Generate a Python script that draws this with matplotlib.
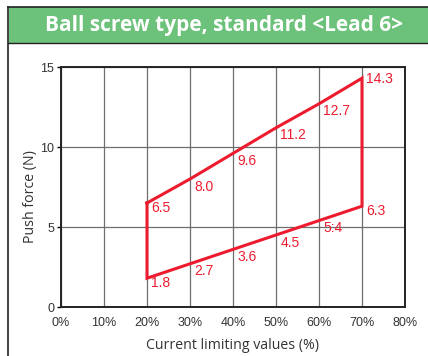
import matplotlib.pyplot as plt
from matplotlib.patches import Rectangle
from matplotlib.lines import Line2D

# data
x_pct = [20, 30, 40, 50, 60, 70]
upper = [6.5, 8.0, 9.6, 11.2, 12.7, 14.3]
lower = [1.8, 2.7, 3.6, 4.5, 5.4, 6.3]
upper_lbl = ["6.5", "8.0", "9.6", "11.2", "12.7", "14.3"]
lower_lbl = ["1.8", "2.7", "3.6", "4.5", "5:4", "6.3"]
x_ticks = [0, 10, 20, 30, 40, 50, 60, 70, 80]
y_ticks = [0, 5, 10, 15]

W, H = 428, 356
RED = "#ec1c2e"
GREEN = "#6cc27a"

fig = plt.figure(figsize=(W / 100, H / 100), dpi=100)

# frame (only top and left edges are inside the picture) and green header
fig.patches.append(Rectangle((8.5 / W, (H - 43) / H), 1, 36 / H, transform=fig.transFigure,
                             fc=GREEN, ec="none"))
fig.lines.append(Line2D([8 / W, 1], [(H - 7) / H] * 2, transform=fig.transFigure,
                        color="#222222", lw=1.2))
fig.lines.append(Line2D([8 / W, 8 / W], [0, (H - 7) / H], transform=fig.transFigure,
                        color="#222222", lw=1.2))
fig.lines.append(Line2D([8 / W, 1], [(H - 43) / H] * 2, transform=fig.transFigure,
                        color="#222222", lw=1.0))
fig.text(224 / W, (H - 25) / H, "Ball screw type, standard <Lead 6>", color="white",
         fontsize=15, fontweight="bold", family="Open Sans", ha="center", va="center")

ax = fig.add_axes([61 / W, (H - 307) / H, 344 / W, 240 / H])

# polygon: upper line, right side, lower line back, left side
xs = x_pct + x_pct[::-1] + [x_pct[0]]
ys = upper + lower[::-1] + [upper[0]]
ax.plot(xs, ys, color=RED, lw=2.2, solid_joinstyle="miter", zorder=3)

last = len(x_pct) - 1
for series, labels in ((upper, upper_lbl), (lower, lower_lbl)):
    for i, (x, y, t) in enumerate(zip(x_pct, series, labels)):
        dy = -5.5
        if i == 0 or i == last:
            dy = -3.5
        if series is upper and i == last:
            dy = -0.5
        ax.annotate(t, (x, y), xytext=(3, dy), textcoords="offset points",
                    ha="left", va="center", color=RED, fontsize=10,
                    family="Liberation Sans")

ax.set_xlim(0, 80)
ax.set_ylim(0, 15)
ax.set_xticks(x_ticks)
ax.set_xticklabels([f"{v}%" for v in x_ticks])
ax.set_yticks(y_ticks)
ax.tick_params(axis="x", length=0, pad=7, labelsize=9)
ax.tick_params(axis="y", length=3, width=1, pad=2, labelsize=9)
for lbl in ax.get_xticklabels() + ax.get_yticklabels():
    lbl.set_family("Liberation Sans")
    lbl.set_color("#333333")

ax.grid(True, color="#6e6e6e", lw=0.9)
ax.set_axisbelow(True)
for s in ax.spines.values():
    s.set_linewidth(1.4)
    s.set_color("#222222")

ax.set_xlabel("Current limiting values (%)", fontsize=10.2, family="Open Sans",
              color="#333333", labelpad=7)
ax.set_ylabel("Push force (N)", fontsize=10.2, family="Open Sans", color="#333333",
              labelpad=3)
ax.yaxis.set_label_coords(-0.068, 0.46)

fig.savefig("out.png", dpi=100)
